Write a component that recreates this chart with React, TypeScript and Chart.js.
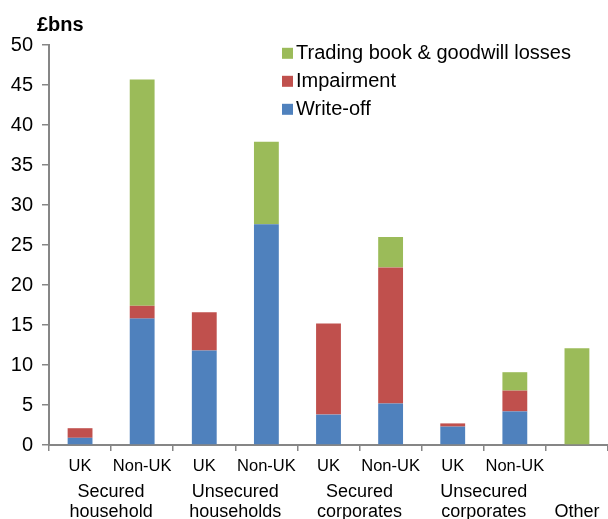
import React, { useEffect, useRef } from "react";
import { Chart, registerables } from "chart.js";

Chart.register(...registerables);

const FONT = "'Liberation Sans', Arial, sans-serif";

// Data
const subLabels = ["UK", "Non-UK", "UK", "Non-UK", "UK", "Non-UK", "UK", "Non-UK", ""];
const groupLabels = [
  ["Secured", "household"],
  ["Unsecured", "households"],
  ["Secured", "corporates"],
  ["Unsecured", "corporates"],
];
const otherLabel = "Other";
const writeOff = [0.9, 15.8, 11.8, 27.6, 3.8, 5.2, 2.3, 4.2, 0];
const impairment = [1.2, 1.6, 4.8, 0, 11.4, 17.0, 0.4, 2.6, 0];
const tradingBook = [0, 28.3, 0, 10.3, 0, 3.8, 0, 2.3, 12.1];
const unitLabel = "£bns";
const yMin = 0;
const yMax = 50;
const yStep = 5;

const AXIS_COLOR = "#868686";

const annotationsPlugin = {
  id: "annotations",
  afterDraw(chart: any) {
    const ctx = chart.ctx;
    const xs = chart.scales.x;
    const area = chart.chartArea;
    ctx.save();
    ctx.fillStyle = "#000";
    // unit title
    ctx.font = `bold 20px ${FONT}`;
    ctx.textAlign = "left";
    ctx.textBaseline = "middle";
    ctx.fillText(unitLabel, 37, 25);

    // group labels
    ctx.font = `18px ${FONT}`;
    ctx.textAlign = "center";
    groupLabels.forEach((lines, i) => {
      const cx = (xs.getPixelForValue(2 * i) + xs.getPixelForValue(2 * i + 1)) / 2;
      lines.forEach((line, j) => {
        ctx.fillText(line, cx, area.bottom + 47.5 + j * 20);
      });
    });
    ctx.fillText(otherLabel, xs.getPixelForValue(8), area.bottom + 67);

    // legend (reverse order)
    ctx.font = `20px ${FONT}`;
    const ds = chart.data.datasets.slice().reverse();
    ctx.textAlign = "left";
    ds.forEach((d: any, i: number) => {
      const y = 53.3 + i * 28;
      ctx.fillStyle = d.backgroundColor;
      ctx.fillRect(282, y - 5.5, 11, 11);
      ctx.fillStyle = "#000";
      ctx.fillText(d.label, 296, y);
    });
    ctx.restore();
  },
};

export default function App() {
  const ref = useRef<HTMLCanvasElement>(null);
  useEffect(() => {
    if (!ref.current) return;
    const chart = new Chart(ref.current, {
      type: "bar",
      data: {
        labels: subLabels,
        datasets: [
          { label: "Write-off", data: writeOff, backgroundColor: "#4F81BD" },
          { label: "Impairment", data: impairment, backgroundColor: "#C0504D" },
          { label: "Trading book & goodwill losses", data: tradingBook, backgroundColor: "#9BBB59" },
        ],
      },
      options: {
        animation: false,
        responsive: true,
        maintainAspectRatio: false,
        layout: { padding: { top: 45, left: 0, right: 0, bottom: 0 } },
        datasets: { bar: { barPercentage: 0.4, categoryPercentage: 1.0 } },
        plugins: { legend: { display: false }, tooltip: { enabled: false } },
        scales: {
          x: {
            stacked: true,
            afterFit: (s: any) => { s.height = 74; },
            grid: { offset: true, drawOnChartArea: false, tickLength: 6, color: AXIS_COLOR, lineWidth: 1.5 },
            border: { display: true, color: AXIS_COLOR, width: 2 },
            ticks: { color: "#000", font: { family: FONT, size: 16.5 }, padding: 6, maxRotation: 0, autoSkip: false },
          },
          y: {
            stacked: true,
            min: yMin,
            max: yMax,
            afterFit: (s: any) => { s.width = 49; },
            grid: { drawOnChartArea: false, tickLength: 7, color: AXIS_COLOR, lineWidth: 1.5 },
            border: { display: true, color: AXIS_COLOR, width: 2 },
            ticks: { stepSize: yStep, color: "#000", font: { family: FONT, size: 20 }, padding: 9 },
          },
        },
      },
      plugins: [annotationsPlugin],
    });
    return () => chart.destroy();
  }, []);
  return (
    <div style={{ position: "absolute", left: 0, top: 0, width: 608, height: 519, background: "#fff" }}>
      <canvas ref={ref} />
    </div>
  );
}
